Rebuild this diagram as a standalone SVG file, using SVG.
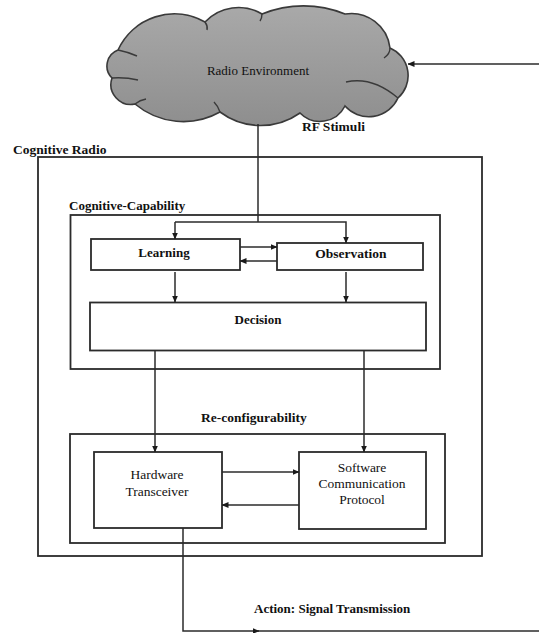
<svg xmlns="http://www.w3.org/2000/svg" width="539" height="633" viewBox="0 0 539 633">
<style>
.box{fill:#fff;stroke:#2b2b2b;stroke-width:1.8}
.frame{fill:none;stroke:#2b2b2b;stroke-width:1.8}
.ln{fill:none;stroke:#2b2b2b;stroke-width:1.5}
.t{font-family:"Liberation Serif","Times New Roman",serif;font-size:13px;fill:#111}
.b{font-weight:bold}
.c{text-anchor:middle}
.crease{fill:none;stroke:#3a3a3a;stroke-width:1.4}
</style>
<defs>
<linearGradient id="cg" x1="0" y1="0" x2="0" y2="1">
<stop offset="0" stop-color="#a9a9a9"/>
<stop offset="1" stop-color="#8e8e8e"/>
</linearGradient>
<marker id="ah" markerWidth="7" markerHeight="6" refX="6.5" refY="3" orient="auto" markerUnits="userSpaceOnUse">
<path d="M0,0 L7,3 L0,6 Z" fill="#1a1a1a"/>
</marker>
</defs>
<rect width="539" height="633" fill="#fff"/>

<g id="cloud">
<path d="M118,50 A62,62 0 0 1 205,22 A46,46 0 0 1 262,14 A110,110 0 0 1 345,14 A39,39 0 0 1 390,48 A30,30 0 0 1 398,98 A32,32 0 0 1 345,106 A28,28 0 0 1 300,113 A68,68 0 0 1 220,112 A75,75 0 0 1 135,104 A20,20 0 0 1 112,78 A17,17 0 0 1 118,50 Z" fill="url(#cg)" stroke="#3a3a3a" stroke-width="1.6"/>
<path class="crease" d="M118,50 Q128,52 137,56"/>
<path class="crease" d="M112,78 Q125,77 138,80"/>
<path class="crease" d="M205,22 Q208,26 207,30"/>
<path class="crease" d="M262,14 Q262,18 260,21"/>
<path class="crease" d="M390,48 Q390,54 384,58"/>
<path class="crease" d="M398,98 Q372,76 346,82"/>
<path class="crease" d="M220,112 Q218,106 214,102"/>
<path class="crease" d="M135,104 Q140,100 146,99"/>
<text class="t c" x="258" y="75">Radio Environment</text>
</g>

<g id="cognitive-radio"><rect class="frame" x="38" y="157" width="444" height="399"/></g>
<g id="cognitive-capability"><rect class="frame" x="70.5" y="215" width="369.5" height="154"/></g>
<g id="reconfigurability"><rect class="frame" x="70" y="434" width="375" height="109"/></g>

<g id="labels">
<text class="t b" x="302" y="131" style="font-size:13.5px">RF Stimuli</text>
<text class="t b" x="13" y="154" style="font-size:13.5px">Cognitive Radio</text>
<text class="t b" x="69" y="210">Cognitive-Capability</text>
<text class="t b" x="201" y="422" style="font-size:13.5px">Re-configurability</text>
<text class="t b" x="254" y="613">Action: Signal Transmission</text>
</g>

<g id="learning">
<rect class="box" x="91" y="239" width="149" height="31"/>
<text class="t b c" x="164" y="257">Learning</text>
</g>
<g id="observation">
<rect class="box" x="277" y="243" width="146" height="27"/>
<text class="t b c" x="351" y="258" style="font-size:13.5px">Observation</text>
</g>
<g id="decision">
<rect class="box" x="90" y="302.5" width="336" height="48"/>
<text class="t b c" x="258" y="324">Decision</text>
</g>
<g id="hardware">
<rect class="box" x="94" y="452" width="128" height="76"/>
<text class="t c" x="157" y="479" style="font-size:13.5px">Hardware</text>
<text class="t c" x="157" y="496" style="font-size:13.5px">Transceiver</text>
</g>
<g id="software">
<rect class="box" x="299" y="452" width="127" height="77"/>
<text class="t c" x="362" y="472" style="font-size:13.5px">Software</text>
<text class="t c" x="362" y="488" style="font-size:13.5px">Communication</text>
<text class="t c" x="362" y="504" style="font-size:13.5px">Protocol</text>
</g>

<g id="connectors">
<line class="ln" x1="539" y1="64" x2="408" y2="64" marker-end="url(#ah)"/>
<line class="ln" x1="258" y1="124" x2="258" y2="222"/>
<polyline class="ln" points="175,222 346,222 346,243" marker-end="url(#ah)"/>
<line class="ln" x1="175" y1="222" x2="175" y2="239" marker-end="url(#ah)"/>
<line class="ln" x1="240" y1="247" x2="277" y2="247" marker-end="url(#ah)"/>
<line class="ln" x1="277" y1="261" x2="240" y2="261" marker-end="url(#ah)"/>
<line class="ln" x1="175" y1="272" x2="175" y2="302" marker-end="url(#ah)"/>
<line class="ln" x1="346" y1="272" x2="346" y2="302" marker-end="url(#ah)"/>
<line class="ln" x1="155" y1="351" x2="155" y2="452" marker-end="url(#ah)"/>
<line class="ln" x1="364" y1="351" x2="364" y2="452" marker-end="url(#ah)"/>
<line class="ln" x1="222" y1="472" x2="299" y2="472" marker-end="url(#ah)"/>
<line class="ln" x1="299" y1="505" x2="222" y2="505" marker-end="url(#ah)"/>
<polyline class="ln" points="183,528 183,631 259,631" marker-end="url(#ah)"/>
<line class="ln" x1="258" y1="631" x2="539" y2="631"/>
</g>
</svg>
